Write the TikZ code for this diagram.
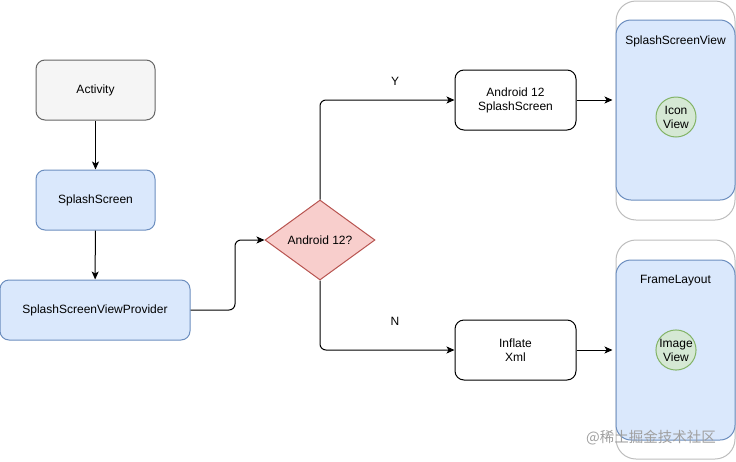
\documentclass[tikz,border=0pt]{standalone}
\usepackage{fontspec}
\setmainfont{Liberation Sans}
\newfontfamily\cjk{Noto Sans CJK SC}
\usetikzlibrary{shapes.geometric,arrows.meta}
\definecolor{grayfill}{HTML}{F5F5F5}
\definecolor{graystroke}{HTML}{666666}
\definecolor{bluefill}{HTML}{DAE8FC}
\definecolor{bluestroke}{HTML}{6C8EBF}
\definecolor{redfill}{HTML}{F8CECC}
\definecolor{redstroke}{HTML}{B85450}
\definecolor{greenfill}{HTML}{D5E8D4}
\definecolor{greenstroke}{HTML}{82B366}
\definecolor{phonestroke}{HTML}{BDBDBD}
\definecolor{wmark}{HTML}{A0A0A0}
\tikzset{
  base/.style={font=\fontsize{12}{14}\selectfont, line width=1pt, align=center, inner sep=0pt},
  rbox/.style={base, rectangle, rounded corners=9pt, minimum height=60pt},
  graybox/.style={rbox, fill=grayfill, draw=graystroke, minimum width=119pt},
  bluebox/.style={rbox, fill=bluefill, draw=bluestroke},
  whitebox/.style={rbox, fill=white, draw=black, minimum width=121pt},
  decision/.style={base, diamond, fill=redfill, draw=redstroke, minimum width=110pt, minimum height=80pt},
  phoneouter/.style={base, rectangle, rounded corners=20pt, fill=white, draw=phonestroke, minimum width=119pt, minimum height=219pt},
  phoneinner/.style={base, rectangle, rounded corners=15pt, fill=bluefill, draw=bluestroke, minimum width=119pt, minimum height=180pt},
  viewcircle/.style={base, circle, fill=greenfill, draw=greenstroke, minimum size=40pt},
  lbl/.style={font=\fontsize{12}{14}\selectfont, inner sep=0pt},
  arr/.style={line width=1pt, -{Stealth[length=8pt,width=7pt,inset=2pt]}, rounded corners=6pt},
}
\begin{document}
\begin{tikzpicture}[x=1pt,y=-1pt]
\useasboundingbox (0,0) rectangle (736,461);
% left column
\node[graybox] (act) at (95.5,90) {Activity};
\node[bluebox, minimum width=119pt] (ss) at (95.5,200) {SplashScreen};
\node[bluebox, minimum width=190pt] (prov) at (95,310) {SplashScreenViewProvider};
% decision
\node[decision] (dec) at (320,240) {Android 12?};
% middle boxes
\node[whitebox] (a12) at (515.5,100) {Android 12\\SplashScreen};
\node[whitebox] (infl) at (515.5,350) {Inflate\\Xml};
% phone 1
\node[phoneouter] (ph1) at (675.5,110.5) {};
\node[phoneinner] (ph1in) at (675.5,110) {};
\node[lbl] (ph1t) at (675.5,41) {SplashScreenView};
\node[viewcircle] (icon) at (676,117) {Icon\\View};
% phone 2
\node[phoneouter] (ph2) at (675.5,349.5) {};
\node[phoneinner] (ph2in) at (675.5,350) {};
\node[lbl] (ph2t) at (675.5,281) {FrameLayout};
\node[viewcircle] (img) at (676,350) {Image\\View};
% connectors
\draw[arr] (act) -- (ss);
\draw[arr] (ss) -- (prov);
\draw[arr] (prov.east) -- (235,310) -- (235,240) -- (dec.west);
\draw[arr] (dec.north) -- (320,100) -- (a12.west);
\draw[arr] (dec.south) -- (320,350) -- (infl.west);
\draw[arr, shorten >=3pt] (a12.east) -- (ph1in.west |- a12.east);
\draw[arr, shorten >=3pt] (infl.east) -- (ph2in.west |- infl.east);
% labels
\node[lbl] (ylab) at (395,81) {Y};
\node[lbl] (nlab) at (395,321) {N};
% watermark
\node[inner sep=0pt, text=wmark, font=\cjk\fontsize{14.5}{16}\selectfont] (wm) at (651,438) {@稀土掘金技术社区};
\end{tikzpicture}
\end{document}
